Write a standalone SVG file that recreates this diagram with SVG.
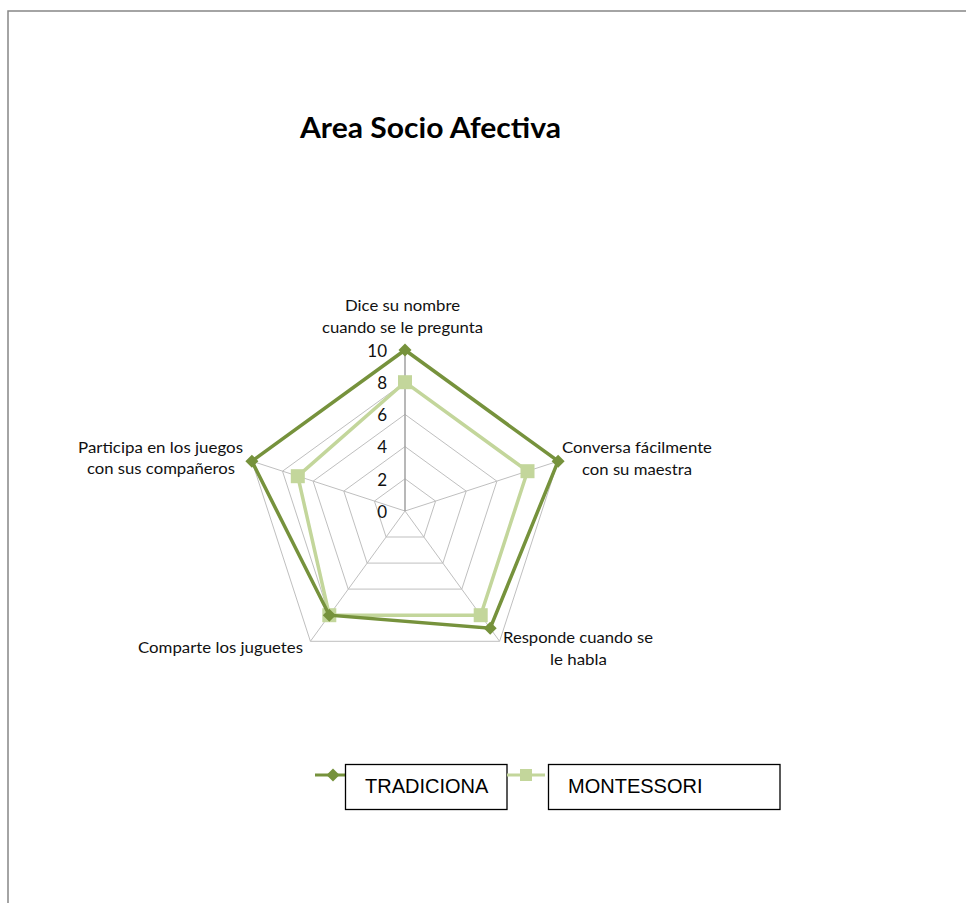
<svg xmlns="http://www.w3.org/2000/svg" width="966" height="903" viewBox="0 0 966 903">
<style>
.lbl{font-family:Lato,"Liberation Sans",sans-serif;font-size:16px;fill:#111}
.num{font-family:Lato,"Liberation Sans",sans-serif;font-size:17px;fill:#111;text-anchor:end}
.ring{fill:none;stroke:#bfbfbf;stroke-width:1}
.spoke{stroke:#bfbfbf;stroke-width:1}
.trad{fill:none;stroke:#76923c;stroke-width:3.5;stroke-linejoin:miter}
.mont{fill:none;stroke:#c3d69b;stroke-width:3.5}
.leg{font-family:"Liberation Sans",Arial,sans-serif;font-size:20px;fill:#000}
</style>
<defs>
<path id="dia" d="M0,-6.5 L6.5,0 L0,6.5 L-6.5,0 Z" fill="#76923c"/>
<rect id="sq" x="-7" y="-7" width="14" height="14" fill="#c3d69b"/>
</defs>
<rect width="966" height="903" fill="#fff"/>
<path d="M8,903 V11 H966" fill="none" stroke="#878787" stroke-width="1.5"/>
<text x="300" y="138" font-family="Lato,'Liberation Sans',sans-serif" font-weight="bold" font-size="29" textLength="261" lengthAdjust="spacingAndGlyphs" fill="#000">Area Socio Afectiva</text>
<g id="grid">
<polygon class="ring" points="405,478.8 435.6,501.1 423.9,537 386.1,537 374.4,501.1"/>
<polygon class="ring" points="405,446.6 466.2,491.1 442.9,563.1 367.1,563.1 343.8,491.1"/>
<polygon class="ring" points="405,414.4 496.9,481.2 461.8,589.1 348.2,589.1 313.1,481.2"/>
<polygon class="ring" points="405,382.2 527.5,471.2 480.7,615.2 329.3,615.2 282.5,471.2"/>
<polygon class="ring" points="405,350 558.1,461.2 499.6,641.3 310.4,641.3 251.9,461.2"/>
<line class="spoke" x1="405" y1="511" x2="558.1" y2="461.2"/>
<line class="spoke" x1="405" y1="511" x2="499.6" y2="641.3"/>
<line class="spoke" x1="405" y1="511" x2="310.4" y2="641.3"/>
<line class="spoke" x1="405" y1="511" x2="251.9" y2="461.2"/>
<line x1="405" y1="511" x2="405" y2="350" stroke="#a0a0a0" stroke-width="1.5"/>
</g>
<g id="axis-values">
<text class="num" x="387" y="357">10</text>
<text class="num" x="387" y="389">8</text>
<text class="num" x="387" y="421">6</text>
<text class="num" x="387" y="453">4</text>
<text class="num" x="387" y="486">2</text>
<text class="num" x="387" y="518">0</text>
</g>
<g id="axis-labels">
<text class="lbl" x="345" y="311" textLength="115" lengthAdjust="spacingAndGlyphs">Dice su nombre</text>
<text class="lbl" x="322" y="333" textLength="161" lengthAdjust="spacingAndGlyphs">cuando se le pregunta</text>
<text class="lbl" x="562" y="453" textLength="150" lengthAdjust="spacingAndGlyphs">Conversa fácilmente</text>
<text class="lbl" x="582" y="475" textLength="110" lengthAdjust="spacingAndGlyphs">con su maestra</text>
<text class="lbl" x="503" y="643" textLength="150" lengthAdjust="spacingAndGlyphs">Responde cuando se</text>
<text class="lbl" x="550" y="665" textLength="57" lengthAdjust="spacingAndGlyphs">le habla</text>
<text class="lbl" x="138" y="653" textLength="165" lengthAdjust="spacingAndGlyphs">Comparte los juguetes</text>
<text class="lbl" x="78" y="453" textLength="165" lengthAdjust="spacingAndGlyphs">Participa en los juegos</text>
<text class="lbl" x="87" y="474" textLength="148" lengthAdjust="spacingAndGlyphs">con sus compañeros</text>
</g>
<g id="series-montessori">
<polygon class="mont" points="405,382.2 527.5,471.2 480.7,615.2 329.3,615.2 297.8,476.2"/>
<use href="#sq" x="405" y="382.2"/>
<use href="#sq" x="527.5" y="471.2"/>
<use href="#sq" x="480.7" y="615.2"/>
<use href="#sq" x="329.3" y="615.2"/>
<use href="#sq" x="297.8" y="476.2"/>
</g>
<g id="series-tradicional">
<polygon class="trad" points="405,350 558.1,461.2 490.2,628.2 329.3,615.2 251.9,461.2"/>
<use href="#dia" x="405" y="350"/>
<use href="#dia" x="558.1" y="461.2"/>
<use href="#dia" x="490.2" y="628.2"/>
<use href="#dia" x="329.3" y="615.2"/>
<use href="#dia" x="251.9" y="461.2"/>
</g>
<g id="legend">
<line x1="315" y1="775" x2="345" y2="775" stroke="#76923c" stroke-width="3"/>
<use href="#dia" x="333" y="775"/>
<rect x="345.5" y="764.5" width="161.5" height="45" fill="#fff" stroke="#000" stroke-width="1.3"/>
<text class="leg" x="365" y="793">TRADICIONA</text>
<line x1="507" y1="775" x2="545" y2="775" stroke="#c3d69b" stroke-width="3"/>
<rect x="520" y="769" width="12" height="12" fill="#c3d69b"/>
<rect x="548.5" y="764.5" width="231.5" height="45" fill="#fff" stroke="#000" stroke-width="1.3"/>
<text class="leg" x="568" y="793">MONTESSORI</text>
</g>
</svg>
